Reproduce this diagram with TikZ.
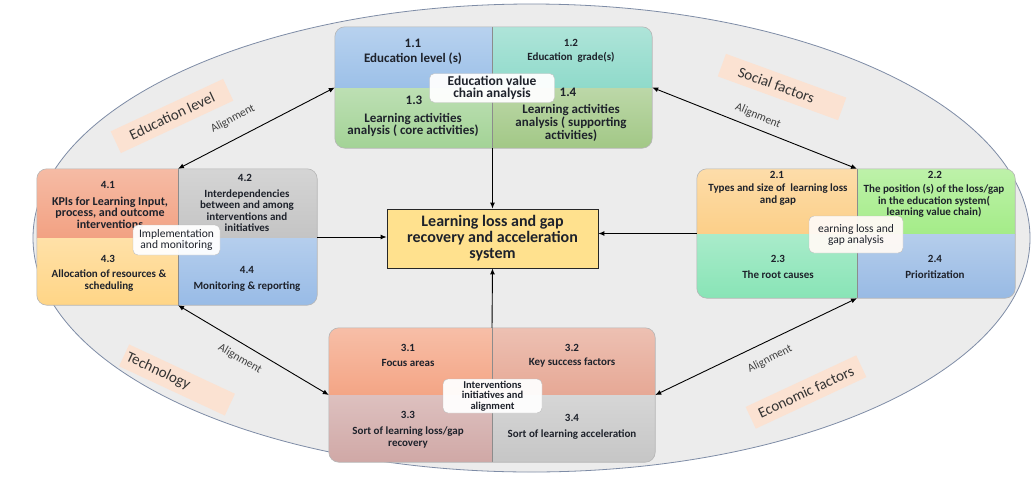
\documentclass[tikz,border=0pt]{standalone}
\usepackage{fontspec}
\setmainfont{Carlito}
\usetikzlibrary{arrows.meta}

\definecolor{ink}{HTML}{1E222B}
\definecolor{ovalfill}{HTML}{ECECEC}
\definecolor{ovalline}{HTML}{7E8CA6}
\definecolor{grpline}{HTML}{B5B5B5}
\definecolor{peach}{HTML}{FBE2D2}
% group 1
\definecolor{cA}{HTML}{9CC0E8}
\definecolor{cB}{HTML}{8FDACA}
\definecolor{cC}{HTML}{A3D396}
\definecolor{cD}{HTML}{A2C886}
% group 2
\definecolor{cE}{HTML}{FCCF88}
\definecolor{cF}{HTML}{A4EC88}
\definecolor{cG}{HTML}{88E4B6}
\definecolor{cH}{HTML}{98BAE4}
% group 3
\definecolor{cI}{HTML}{F4A585}
\definecolor{cJ}{HTML}{E6A895}
\definecolor{cK}{HTML}{D0A8A6}
\definecolor{cL}{HTML}{C6C6C6}
% group 4
\definecolor{cM}{HTML}{F2A182}
\definecolor{cN}{HTML}{C4C4C4}
\definecolor{cO}{HTML}{FFD586}
\definecolor{cP}{HTML}{98BBE6}
\definecolor{sysfill}{HTML}{FFE18E}

\newcommand\fsz[2]{\fontsize{#1}{#2}\selectfont}
% one quadrant of a group box, lighter towards its top
\newcommand\quadfill[3]{\shade[top color=#1!72!white,bottom color=#1] #2 rectangle #3;}

\begin{document}
\begin{tikzpicture}[x=1pt,y=-1pt,
  grp/.style={draw=none,fill=none,inner sep=0,rectangle},
  grpframe/.style={draw=grpline,line width=0.6pt,rounded corners=10pt},
  divider/.style={draw=black!45,line width=0.5pt},
  num/.style={font=\bfseries\fsz{11}{11},text=ink,inner sep=0},
  cell/.style={font=\bfseries\fsz{11}{11.5},text=ink,align=center,inner sep=0},
  bignum/.style={font=\bfseries\fsz{13}{12.5},text=ink,inner sep=0},
  bigcell/.style={font=\bfseries\fsz{13}{12.8},text=ink,align=center,inner sep=0},
  tag/.style={draw=black!25,fill=white,fill opacity=0.95,text opacity=1,
    rounded corners=5pt,align=center,inner sep=0,text=ink},
  arr/.style={-{Latex[length=6pt,width=5pt]},line width=0.9pt,draw=black},
  dbl/.style={{Latex[length=6pt,width=5pt]}-{Latex[length=6pt,width=5pt]},line width=0.9pt,draw=black},
  algn/.style={font=\fsz{11.5}{11.5},text=black!75,inner sep=0},
  factor/.style={fill=peach,font=\fsz{15}{15},text=black!80,inner ysep=5pt,
    minimum height=24pt}
]
\useasboundingbox (0,0) rectangle (1032,477);
\fill[white] (0,0) rectangle (1032,477);

% outer oval
\draw[fill=ovalfill,draw=ovalline,line width=0.8pt] (531.5,238) ellipse [x radius=498.5,y radius=234];

% context factors
\node[factor,rotate=25,minimum width=124pt] (fEdu) at (172,116) {Education level};
\node[factor,rotate=-20,minimum width=128pt] (fSoc) at (782,87) {\hspace*{-12pt}Social factors};
\node[factor,rotate=-25,text width=110pt,align=left] (fTec) at (177,380) {Technology};
\node[factor,rotate=25,minimum width=122pt] (fEco) at (806,392) {Economic factors};

% ---------- group 1: education value chain ----------
\node[grp,minimum width=317pt,minimum height=121pt] (g1) at (493.5,87.5) {};
\coordinate (s1) at (492,88);
\begin{scope}
  \clip[rounded corners=10pt] (g1.north west) rectangle (g1.south east);
  \quadfill{cA}{(g1.north west)}{(s1)}
  \quadfill{cB}{(g1.north east)}{(s1)}
  \quadfill{cC}{(s1)}{(g1.south west)}
  \quadfill{cD}{(s1)}{(g1.south east)}
  \draw[divider] (s1 |- g1.north) -- (s1 |- g1.south);
\end{scope}
\draw[grpframe] (g1.north west) rectangle (g1.south east);
\node[bignum] (n11) at (413,43) {1.1};
\node[bigcell] (t11) at (413,59) {Education level (s)};
\node[num] (n12) at (571,43) {1.2};
\node[cell] (t12) at (571,57) {Education\ \ grade(s)};
\node[bignum] (n13) at (414,100) {1.3};
\node[bigcell] (t13) at (413,125) {Learning activities\\analysis ( core activities)};
\node[bignum] (n14) at (568,92) {1.4};
\node[bigcell] (t14) at (571,123) {Learning activities\\analysis ( supporting\\activities)};
\node[tag,font=\bfseries\fsz{13.5}{12.5},minimum width=125pt,minimum height=29pt] (l1) at (s1) {Education value\\chain analysis};

% ---------- group 4: implementation and monitoring ----------
\node[grp,minimum width=280pt,minimum height=136pt] (g4) at (177,237) {};
\coordinate (s4) at (178,238);
\begin{scope}
  \clip[rounded corners=10pt] (g4.north west) rectangle (g4.south east);
  \quadfill{cM}{(g4.north west)}{(s4)}
  \quadfill{cN}{(g4.north east)}{(s4)}
  \quadfill{cO}{(s4)}{(g4.south west)}
  \quadfill{cP}{(s4)}{(g4.south east)}
  \draw[divider] (s4 |- g4.north) -- (s4 |- g4.south);
\end{scope}
\draw[grpframe] (g4.north west) rectangle (g4.south east);
\node[num] (n41) at (108,185) {4.1};
\node[cell,font=\bfseries\fsz{12}{11.5}] (t41) at (110,212.5) {KPIs for Learning Input,\\process, and outcome\\interventions};
\node[num] (n42) at (245,178) {4.2};
\node[cell] (t42) at (247,210.5) {Interdependencies\\between and among\\interventions and\\initiatives};
\node[num] (n43) at (108,259) {4.3};
\node[cell] (t43) at (109,280.5) {Allocation of resources \&\\scheduling};
\node[num] (n44) at (247,270) {4.4};
\node[cell] (t44) at (247,287) {Monitoring \& reporting};
\node[tag,font=\fsz{11.5}{10.5},minimum width=87pt,minimum height=30pt] (l4) at (176.5,240) {Implementation\\and monitoring};

% ---------- group 2: learning loss and gap analysis ----------
\node[grp,minimum width=318pt,minimum height=129pt] (g2) at (856,233.5) {};
\coordinate (s2) at (857,234);
\begin{scope}
  \clip[rounded corners=10pt] (g2.north west) rectangle (g2.south east);
  \quadfill{cE}{(g2.north west)}{(s2)}
  \quadfill{cF}{(g2.north east)}{(s2)}
  \quadfill{cG}{(s2)}{(g2.south west)}
  \quadfill{cH}{(s2)}{(g2.south east)}
  \draw[divider] (s2 |- g2.north) -- (s2 |- g2.south);
\end{scope}
\draw[grpframe] (g2.north west) rectangle (g2.south east);
\node[num] (n21) at (777,175) {2.1};
\node[cell] (t21) at (778,194.5) {Types and size of\ \ learning loss\\and gap};
\node[num] (n22) at (935,175) {2.2};
\node[cell] (t22) at (934,201) {The position (s) of the loss/gap\\in the education system(\\learning value chain)};
\node[num] (n23) at (778,259) {2.3};
\node[cell] (t23) at (778,275) {The root causes};
\node[num] (n24) at (935,259) {2.4};
\node[cell] (t24) at (935,275) {Prioritization};
\node[tag,fill=white!96!orange,font=\fsz{11.5}{11},minimum width=94pt,minimum height=37pt] (l2) at (856,234.5) {earning loss and\\gap analysis};

% ---------- group 3: interventions ----------
\node[grp,minimum width=326pt,minimum height=134pt] (g3) at (492,395) {};
\coordinate (s3) at (492,395);
\begin{scope}
  \clip[rounded corners=10pt] (g3.north west) rectangle (g3.south east);
  \quadfill{cI}{(g3.north west)}{(s3)}
  \quadfill{cJ}{(g3.north east)}{(s3)}
  \quadfill{cK}{(s3)}{(g3.south west)}
  \quadfill{cL}{(s3)}{(g3.south east)}
  \draw[divider] (s3 |- g3.north) -- (s3 |- g3.south);
\end{scope}
\draw[grpframe] (g3.north west) rectangle (g3.south east);
\node[num] (n31) at (408,348) {3.1};
\node[cell] (t31) at (408,363) {Focus areas};
\node[num] (n32) at (572,348) {3.2};
\node[cell] (t32) at (572,363) {Key success factors};
\node[num] (n33) at (408,415) {3.3};
\node[cell] (t33) at (408,437.5) {Sort of learning loss/gap\\recovery};
\node[num] (n34) at (572,418) {3.4};
\node[cell] (t34) at (572,435) {Sort of learning acceleration};
\node[tag,font=\bfseries\fsz{10.5}{10.5},minimum width=99pt,minimum height=34pt] (l3) at (492.5,396) {Interventions\\initiatives and\\alignment};

% ---------- central system ----------
\node[draw=black!85,fill=sysfill,line width=0.8pt,minimum width=211pt,minimum height=59pt,
  font=\bfseries\fsz{16}{16},text=ink,align=center,inner sep=0] (sys) at (492.5,238.5)
  {Learning loss and gap\\recovery and acceleration\\system};

% flows into the system
\draw[arr] (g1.south -| sys.north) -- (sys.north);
\draw[arr] (g3.north) -- (sys.south);
\draw[arr] (g4.east) -- (g4.east -| sys.west);
\draw[arr] (g2.west) -- (g2.west -| sys.east);

% alignment links between groups
\draw[dbl] (g1.west) -- (s4 |- g4.north);
\draw[dbl] (g1.east) -- (s2 |- g2.north);
\draw[dbl] (s4 |- g4.south) -- (g3.west);
\draw[dbl] (s2 |- g2.south) -- (g3.east);
\node[algn,rotate=28] (a1) at (233,119) {Alignment};
\node[algn,rotate=-23] (a2) at (758,116) {Alignment};
\node[algn,rotate=-30] (a3) at (240,359) {Alignment};
\node[algn,rotate=27] (a4) at (770,359) {Alignment};
\end{tikzpicture}
\end{document}
